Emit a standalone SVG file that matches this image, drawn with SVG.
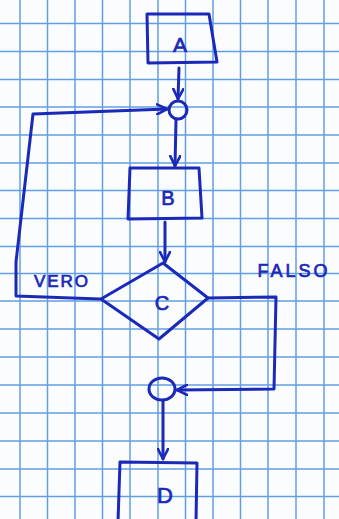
<svg xmlns="http://www.w3.org/2000/svg" width="339" height="519" viewBox="0 0 339 519">
<defs>
<style>
.grid line{stroke:#629fe2;stroke-width:1.5}
.ink{fill:none;stroke:#1a29b8;stroke-width:3;stroke-linecap:round;stroke-linejoin:round}
.lbl{font-family:"Liberation Sans",Arial,sans-serif;fill:#1a29b8;stroke:#1a29b8;stroke-width:0.7;text-anchor:middle}
</style>
<marker id="ah" viewBox="0 0 12 12" refX="11" refY="6" markerWidth="12" markerHeight="12" markerUnits="userSpaceOnUse" orient="auto">
<path d="M1,1 L11,6 L1,11" fill="none" stroke="#1a29b8" stroke-width="2.6" stroke-linecap="round" stroke-linejoin="round"/>
</marker>
</defs>
<rect width="339" height="519" fill="#fbfcfe"/>
<g class="grid">
<line x1="20" y1="0" x2="20" y2="519"/><line x1="47.5" y1="0" x2="47.5" y2="519"/><line x1="75" y1="0" x2="75" y2="519"/><line x1="102.5" y1="0" x2="102.5" y2="519"/><line x1="130" y1="0" x2="130" y2="519"/><line x1="158" y1="0" x2="158" y2="519"/><line x1="185.5" y1="0" x2="185.5" y2="519"/><line x1="213" y1="0" x2="213" y2="519"/><line x1="240.5" y1="0" x2="240.5" y2="519"/><line x1="268" y1="0" x2="268" y2="519"/><line x1="296" y1="0" x2="296" y2="519"/><line x1="324" y1="0" x2="324" y2="519"/>
<line x1="0" y1="23.5" x2="339" y2="23.5"/><line x1="0" y1="51.5" x2="339" y2="51.5"/><line x1="0" y1="79.5" x2="339" y2="79.5"/><line x1="0" y1="107" x2="339" y2="107"/><line x1="0" y1="135" x2="339" y2="135"/><line x1="0" y1="163" x2="339" y2="163"/><line x1="0" y1="190.5" x2="339" y2="190.5"/><line x1="0" y1="218.5" x2="339" y2="218.5"/><line x1="0" y1="246.5" x2="339" y2="246.5"/><line x1="0" y1="273.5" x2="339" y2="273.5"/><line x1="0" y1="301" x2="339" y2="301"/><line x1="0" y1="329" x2="339" y2="329"/><line x1="0" y1="357" x2="339" y2="357"/><line x1="0" y1="385" x2="339" y2="385"/><line x1="0" y1="413" x2="339" y2="413"/><line x1="0" y1="441" x2="339" y2="441"/><line x1="0" y1="469" x2="339" y2="469"/><line x1="0" y1="496.5" x2="339" y2="496.5"/>
</g>
<g id="connectors">
<path class="ink" d="M179,68 L178,99" marker-end="url(#ah)"/>
<path class="ink" d="M176,120 L175,166" marker-end="url(#ah)"/>
<path class="ink" d="M165,222 L165,262" marker-end="url(#ah)"/>
<path class="ink" d="M100,299 L16,296 L16,262 L33,114 L167,109" marker-end="url(#ah)"/>
<path class="ink" d="M208,298 L276,297 L274,389 L177,390" marker-end="url(#ah)"/>
<path class="ink" d="M163,401 L163,459" marker-end="url(#ah)"/>
</g>
<g id="nodeA">
<path class="ink" d="M147,14 L209,14 L217,62 L148,63 Z"/>
<text class="lbl" x="180" y="52" font-size="21">A</text>
</g>
<g id="merge1">
<circle class="ink" cx="178" cy="110" r="9"/>
</g>
<g id="nodeB">
<path class="ink" d="M130,168 L199,168 L202,218 L128,219 Z"/>
<text class="lbl" x="168" y="205" font-size="20">B</text>
</g>
<g id="nodeC">
<path class="ink" d="M163,263 L208,298 L159,339 L101,299 Z"/>
<text class="lbl" x="162" y="310" font-size="20">C</text>
</g>
<g id="merge2">
<ellipse class="ink" cx="162" cy="389" rx="13" ry="11"/>
</g>
<g id="nodeD">
<path class="ink" d="M120,462 L197,463 L196,522 L118,522 Z"/>
<text class="lbl" x="165" y="503" font-size="22">D</text>
</g>
<text class="lbl" x="62" y="287" font-size="17" letter-spacing="2">VERO</text>
<text class="lbl" x="294" y="277" font-size="18" letter-spacing="3">FALSO</text>
</svg>
